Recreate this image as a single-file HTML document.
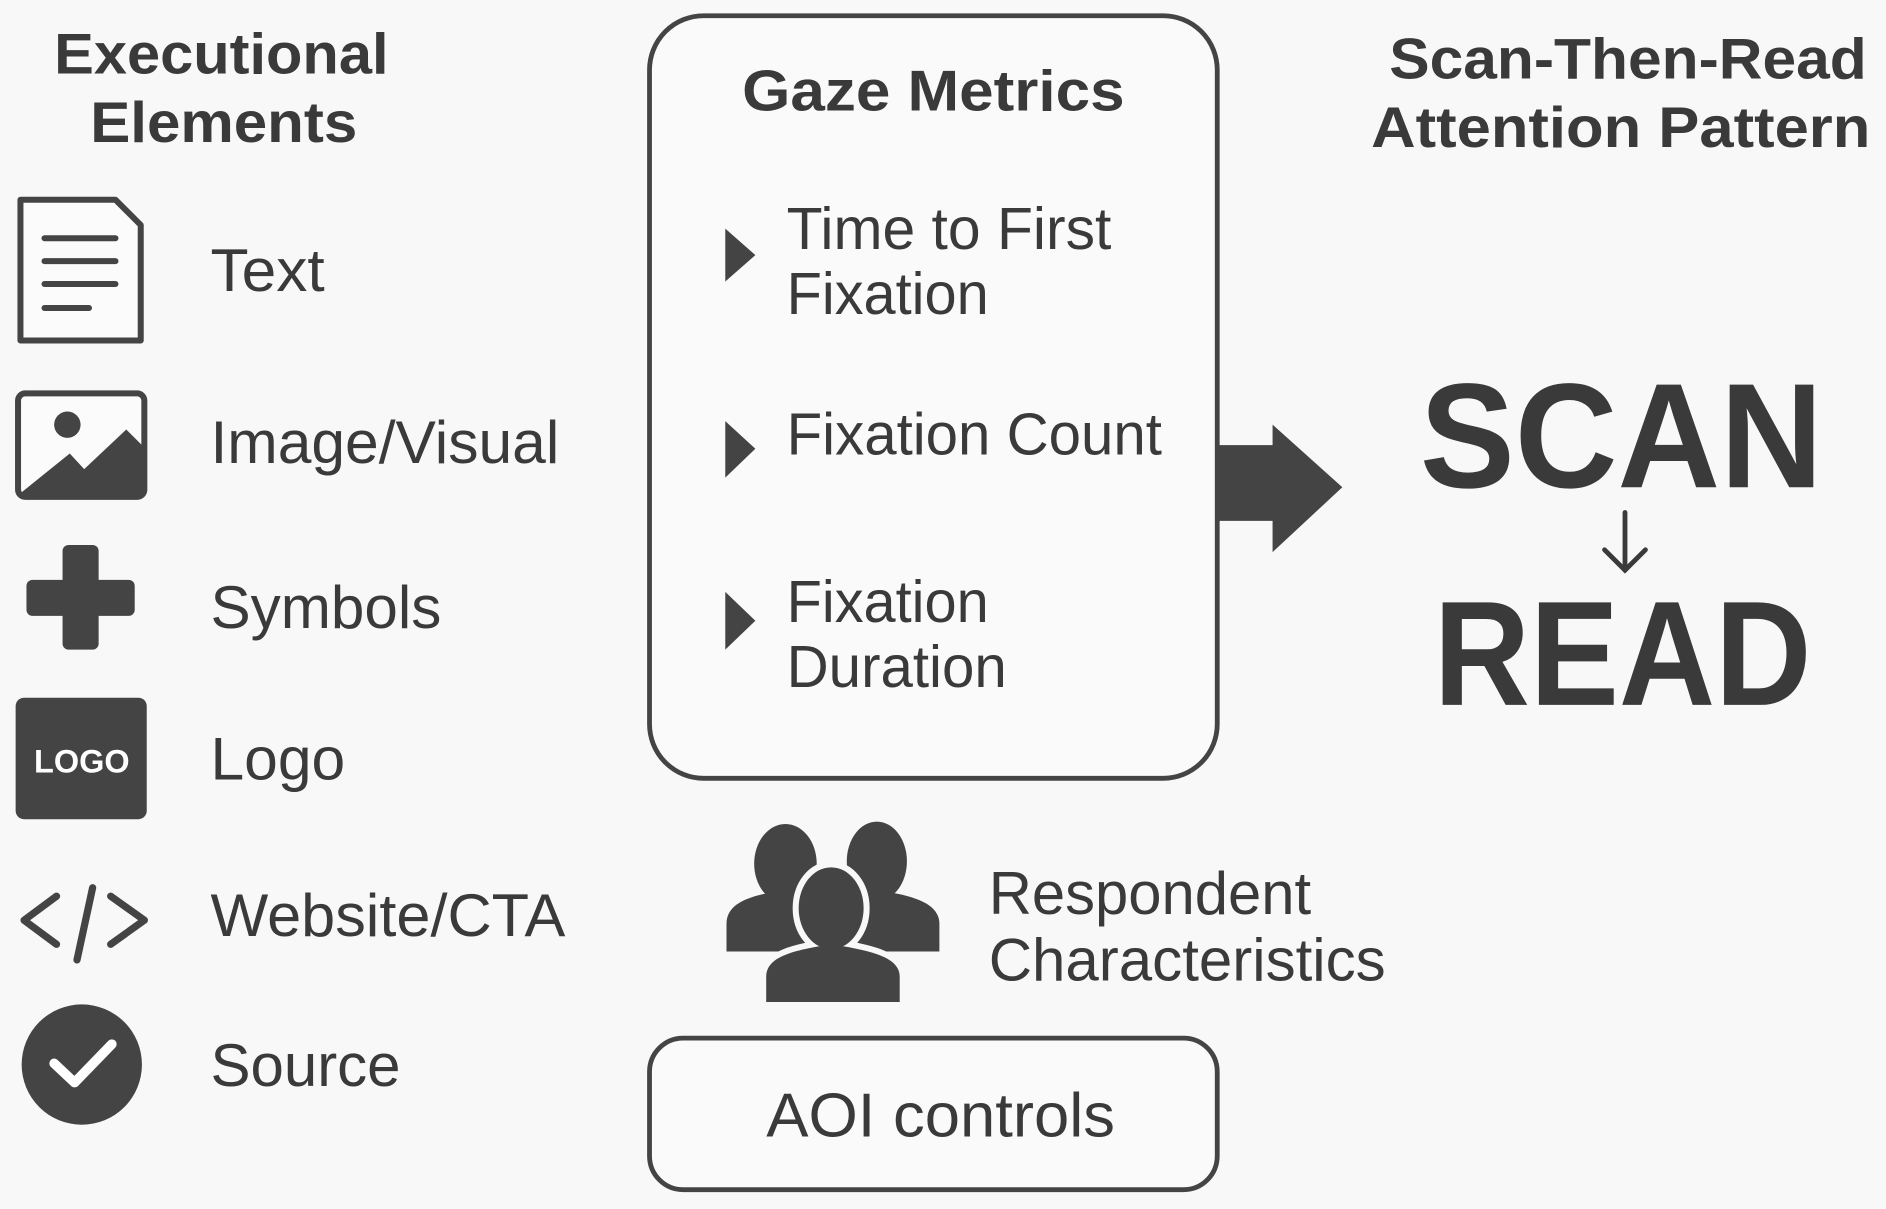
<!DOCTYPE html>
<html><head><meta charset="utf-8"><style>
html,body{margin:0;padding:0;background:#f8f8f8;}
svg{display:block}
text{font-family:"Liberation Sans",sans-serif;fill:#3a3a3a}
</style></head><body>
<svg width="1886" height="1209" viewBox="0 0 1568 1005" xmlns="http://www.w3.org/2000/svg">
<rect width="1568" height="1005" fill="#f8f8f8"/>
<g font-weight="bold" font-size="48" lengthAdjust="spacingAndGlyphs">
<text x="45" y="61" textLength="278" lengthAdjust="spacingAndGlyphs">Executional</text>
<text x="75" y="118" textLength="222" lengthAdjust="spacingAndGlyphs">Elements</text>
<text x="1155" y="65" textLength="397" lengthAdjust="spacingAndGlyphs">Scan-Then-Read</text>
<text x="1140" y="122" textLength="415" lengthAdjust="spacingAndGlyphs">Attention Pattern</text>
</g>
<!-- Gaze box -->
<rect x="540" y="13" width="472" height="634" rx="45" fill="#fafafa" stroke="#444" stroke-width="4"/>
<text x="617" y="92" font-size="48" font-weight="bold" textLength="318" lengthAdjust="spacingAndGlyphs">Gaze Metrics</text>
<g fill="#444">
<polygon points="603,190 628,212 603,234"/>
<polygon points="603,350 628,373 603,397"/>
<polygon points="603,492 628,516 603,540"/>
</g>
<g font-size="49">
<text x="654" y="207" textLength="270" lengthAdjust="spacingAndGlyphs">Time to First</text>
<text x="654" y="261" textLength="168" lengthAdjust="spacingAndGlyphs">Fixation</text>
<text x="654" y="378" textLength="312" lengthAdjust="spacingAndGlyphs">Fixation Count</text>
<text x="654" y="517" textLength="168" lengthAdjust="spacingAndGlyphs">Fixation</text>
<text x="654" y="571" textLength="183" lengthAdjust="spacingAndGlyphs">Duration</text>
</g>
<polygon fill="#444" points="1012,370 1058,370 1058,353 1116,405 1058,459 1058,433 1012,433"/>
<g font-size="124" font-weight="bold" text-anchor="middle">
<text x="1348" y="405" textLength="335" lengthAdjust="spacingAndGlyphs">SCAN</text>
<text x="1349" y="586" textLength="314" lengthAdjust="spacingAndGlyphs">READ</text>
</g>
<g stroke="#3a3a3a" stroke-width="4" fill="none" stroke-linecap="round">
<line x1="1351" y1="426" x2="1351" y2="474"/>
<polyline points="1334,457 1351,474 1368,457"/>
</g>
<!-- left icons -->
<g stroke="#444" stroke-width="5" fill="none" stroke-linecap="round" stroke-linejoin="round">
<path d="M17,166 H96 L117,187 V283 H17 Z" fill="#fbfbfb"/>
<line x1="37" y1="198" x2="96" y2="198"/>
<line x1="37" y1="217" x2="96" y2="217"/>
<line x1="37" y1="236" x2="96" y2="236"/>
<line x1="37" y1="256" x2="74" y2="256"/>
<rect x="15" y="327" width="105" height="86" rx="6" fill="#fbfbfb"/>
<polyline points="47,745 20,765 47,785" stroke-width="6"/>
<polyline points="92,745 120,765 92,785" stroke-width="6"/>
<line x1="77" y1="738" x2="64" y2="798" stroke-width="6"/>
</g>
<g fill="#444">
<rect x="52" y="453" width="30" height="87" rx="5"/>
<rect x="22" y="482" width="90" height="30" rx="5"/>
<circle cx="56" cy="353" r="11"/>
<polygon points="17,410 58,377 70,390 105,357 120,372 120,412 17,412"/>
<rect x="13" y="580" width="109" height="101" rx="7"/>
<circle cx="68" cy="885" r="50"/>
</g>
<text x="68" y="642" font-size="27" font-weight="bold" text-anchor="middle" style="fill:#fff">LOGO</text>
<polyline points="45,884 62,900 93,868" stroke="#fff" stroke-width="8" fill="none" stroke-linecap="round" stroke-linejoin="round"/>
<g font-size="50">
<text x="175" y="242" textLength="95" lengthAdjust="spacingAndGlyphs">Text</text>
<text x="175" y="385" textLength="290" lengthAdjust="spacingAndGlyphs">Image/Visual</text>
<text x="175" y="522" textLength="192" lengthAdjust="spacingAndGlyphs">Symbols</text>
<text x="175" y="648" textLength="112" lengthAdjust="spacingAndGlyphs">Logo</text>
<text x="175" y="778" textLength="295" lengthAdjust="spacingAndGlyphs">Website/CTA</text>
<text x="175" y="903" textLength="158" lengthAdjust="spacingAndGlyphs">Source</text>
</g>
<!-- people -->
<g fill="#444">
<ellipse cx="653" cy="718" rx="26" ry="33"/>
<path d="M604,791 V768 C604,750 625,744 653,740 C681,744 702,750 702,768 V791 Z"/>
<ellipse cx="729" cy="716" rx="25" ry="33"/>
<path d="M682,791 V768 C682,750 705,744 729,740 C757,744 781,750 781,768 V791 Z"/>
</g>
<g fill="#f8f8f8" stroke="#f8f8f8" stroke-width="10">
<ellipse cx="691" cy="755" rx="27" ry="34"/>
<path d="M637,833 V812 C637,795 660,790 691,785 C722,790 748,795 748,812 V833Z"/>
</g>
<g fill="#444">
<ellipse cx="691" cy="755" rx="27" ry="34"/>
<path d="M637,833 V812 C637,795 660,790 691,785 C722,790 748,795 748,812 V833Z"/>
</g>
<g font-size="50">
<text x="822" y="760" textLength="268" lengthAdjust="spacingAndGlyphs">Respondent</text>
<text x="822" y="815" textLength="330" lengthAdjust="spacingAndGlyphs">Characteristics</text>
</g>
<rect x="540" y="863" width="472" height="126" rx="28" fill="#fafafa" stroke="#444" stroke-width="4"/>
<text x="637" y="945" font-size="52" textLength="290" lengthAdjust="spacingAndGlyphs">AOI controls</text>
</svg>
</body></html>
